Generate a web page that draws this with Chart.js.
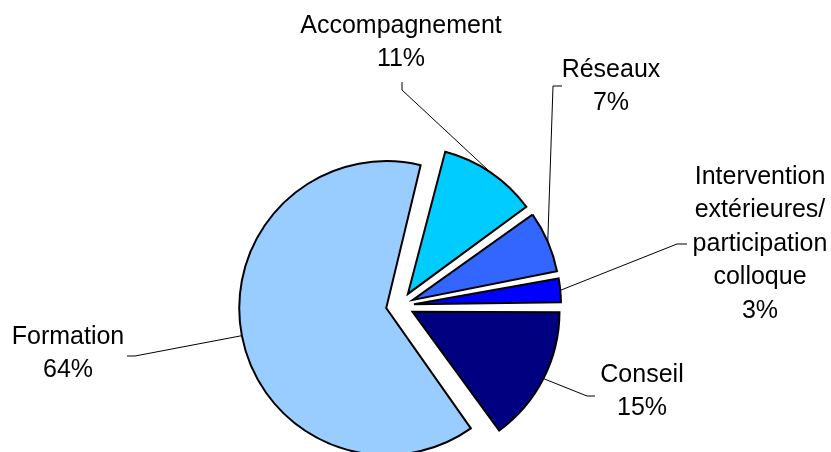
<!DOCTYPE html>
<html>
<head>
<meta charset="utf-8">
<script src="https://cdn.jsdelivr.net/npm/chart.js@4"></script>
<style>
  html, body { margin: 0; padding: 0; background: #fff; }
  #wrap { width: 831px; height: 452px; }
</style>
</head>
<body>
<div id="wrap"><canvas id="myChart"></canvas></div>
<script>
// slice names and shares (%)
var categories = ["Formation", "Accompagnement", "Réseaux", "Intervention extérieures/ participation colloque", "Conseil"];
var shares = [64, 11, 7, 3, 15];
var sliceColors = ["#99CCFF", "#00CCFF", "#3366FF", "#0000FF", "#000080"];

// label centre (first line) and the short elbow of each leader line
var labelPos = [[68, 337], [401, 26], [611, 70], [760, 177], [642, 375]];
var leaderStart = [[127, 356, 135, 356], [402, 82, 402, 90], [562, 86, 553, 86], [687, 244, 677, 244], [595, 396, 587, 396]];

var EXPLODE = 56; // chart.js moves a slice out by offset / 4
var RADIUS = 147;
var FONT = '25px "Liberation Sans", Arial, sans-serif';
var LINE_H = 33.5;

function wrapWords(ctx, text, maxW) {
  var words = text.split(" ");
  var lines = [];
  var cur = "";
  words.forEach(function (w) {
    var test = cur ? cur + " " + w : w;
    if (cur && ctx.measureText(test).width > maxW) {
      lines.push(cur);
      cur = w;
    } else {
      cur = test;
    }
  });
  if (cur) lines.push(cur);
  return lines;
}

var pieLabels = {
  id: "pieLabels",
  beforeDatasetsDraw: function (chart) {
    // exploded small slices get drawn a bit bigger, pull them all back to one radius
    chart.getDatasetMeta(0).data.forEach(function (arc) {
      var fix = 1 - Math.sin(Math.min(Math.PI, arc.circumference));
      arc.outerRadius = RADIUS - (EXPLODE / 4) * fix;
    });
  },
  afterDatasetsDraw: function (chart) {
    var ctx = chart.ctx;
    var meta = chart.getDatasetMeta(0);
    ctx.save();
    ctx.strokeStyle = "#000";
    ctx.lineWidth = 1;
    meta.data.forEach(function (arc, i) {
      var mid = (arc.startAngle + arc.endAngle) / 2;
      var r = RADIUS + EXPLODE / 4;
      var s = leaderStart[i];
      ctx.beginPath();
      ctx.moveTo(s[0], s[1]);
      ctx.lineTo(s[2], s[3]);
      ctx.lineTo(arc.x + Math.cos(mid) * r, arc.y + Math.sin(mid) * r);
      ctx.stroke();
    });

    ctx.fillStyle = "#000";
    ctx.font = FONT;
    ctx.textAlign = "center";
    ctx.textBaseline = "middle";
    categories.forEach(function (name, i) {
      var lines = wrapWords(ctx, name, 150);
      lines.push(shares[i] + "%");
      lines.forEach(function (t, k) {
        ctx.fillText(t, labelPos[i][0], labelPos[i][1] + k * LINE_H);
      });
    });
    ctx.restore();
  }
};

var ctx = document.getElementById("myChart").getContext("2d");
var myChart = new Chart(ctx, {
  type: "pie",
  data: {
    labels: categories,
    datasets: [
      {
        data: shares,
        backgroundColor: sliceColors,
        borderColor: "#000",
        borderWidth: 2,
        borderJoinStyle: "miter",
        offset: EXPLODE,
        hoverOffset: 0,
      },
    ],
  },
  options: {
    responsive: true,
    maintainAspectRatio: false,
    animation: false,
    events: [],
    rotation: 144,
    radius: RADIUS,
    layout: {
      padding: { left: 0, right: 31, top: 159, bottom: 0 },
    },
    plugins: {
      legend: { display: false },
      tooltip: { enabled: false },
    },
  },
  plugins: [pieLabels],
});
</script>
</body>
</html>
